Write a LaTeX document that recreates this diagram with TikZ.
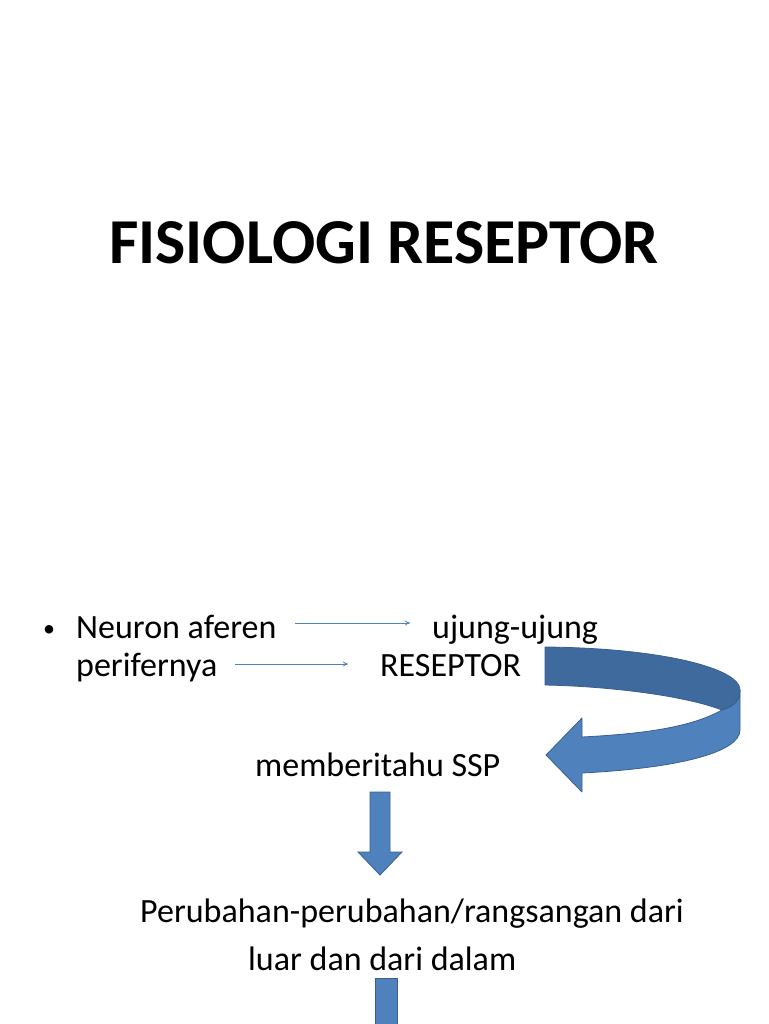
\documentclass[tikz,border=0pt]{standalone}
\usepackage{fontspec}
\setmainfont{Carlito}
\usetikzlibrary{arrows.meta}
\definecolor{ablue}{HTML}{4F81BD}
\definecolor{dblue}{HTML}{3E6A9E}
\definecolor{eblue}{HTML}{3A5F8F}
\begin{document}
\begin{tikzpicture}[x=1pt,y=-1pt,
 txt/.style={anchor=base west,inner sep=0,font=\fontsize{34}{40}\selectfont},
 thin/.style={draw=ablue,line width=0.8pt,-{To[length=5pt,width=5pt]}},
 blk/.style={fill=ablue,draw=eblue,line width=0.8pt}]
\useasboundingbox[fill=white] (0,0) rectangle (768,1024);
\node[anchor=base,inner sep=0,font=\fontsize{64}{76}\selectfont\bfseries] (title) at (384,263) {FISIOLOGI RESEPTOR};
\node[txt,font=\fontsize{24}{28}\selectfont] (bul) at (43,636) {•};
\node[txt] (n1) at (76,638) {Neuron aferen};
\node[txt] (u1) at (432,638) {ujung-ujung};
\node[txt] (p1) at (76,676) {perifernya};
\node[txt] (r1) at (380,676) {RESEPTOR};
\node[txt] (m1) at (255,776) {memberitahu SSP};
\node[txt] (pb) at (140,922) {Perubahan-perubahan/rangsangan dari};
\node[txt] (ld) at (248,970) {luar dan dari dalam};
\coordinate (a1s) at (295,623); \coordinate (a1e) at (410,623);
\coordinate (a2s) at (235,664); \coordinate (a2e) at (348,664);
\draw[thin] (a1s) -- (a1e);
\draw[thin] (a2s) -- (a2e);
\draw[blk,line join=round] (722,710) .. controls (690,728) and (640,734) .. (582,737)
  -- (582,718) -- (546,755) -- (582,792) -- (582,773)
  .. controls (680,768) and (740,752) .. (740,730) -- (740,690) .. controls (740,700) and (735,706) .. (722,710) -- cycle;
\draw[fill=dblue,draw=eblue,line width=0.8pt,line join=round] (545,647) .. controls (660,648) and (740,668) .. (740,690)
  .. controls (740,700) and (735,706) .. (722,710)
  .. controls (680,694) and (600,686) .. (545,685) -- cycle;
\draw[blk] (370,792) -- (390,792) -- (390,852) -- (402,852) -- (380,875) -- (358,852) -- (370,852) -- cycle;
\draw[blk] (375,1026) -- (375,978) -- (397,978) -- (397,1026);
\end{tikzpicture}
\end{document}
